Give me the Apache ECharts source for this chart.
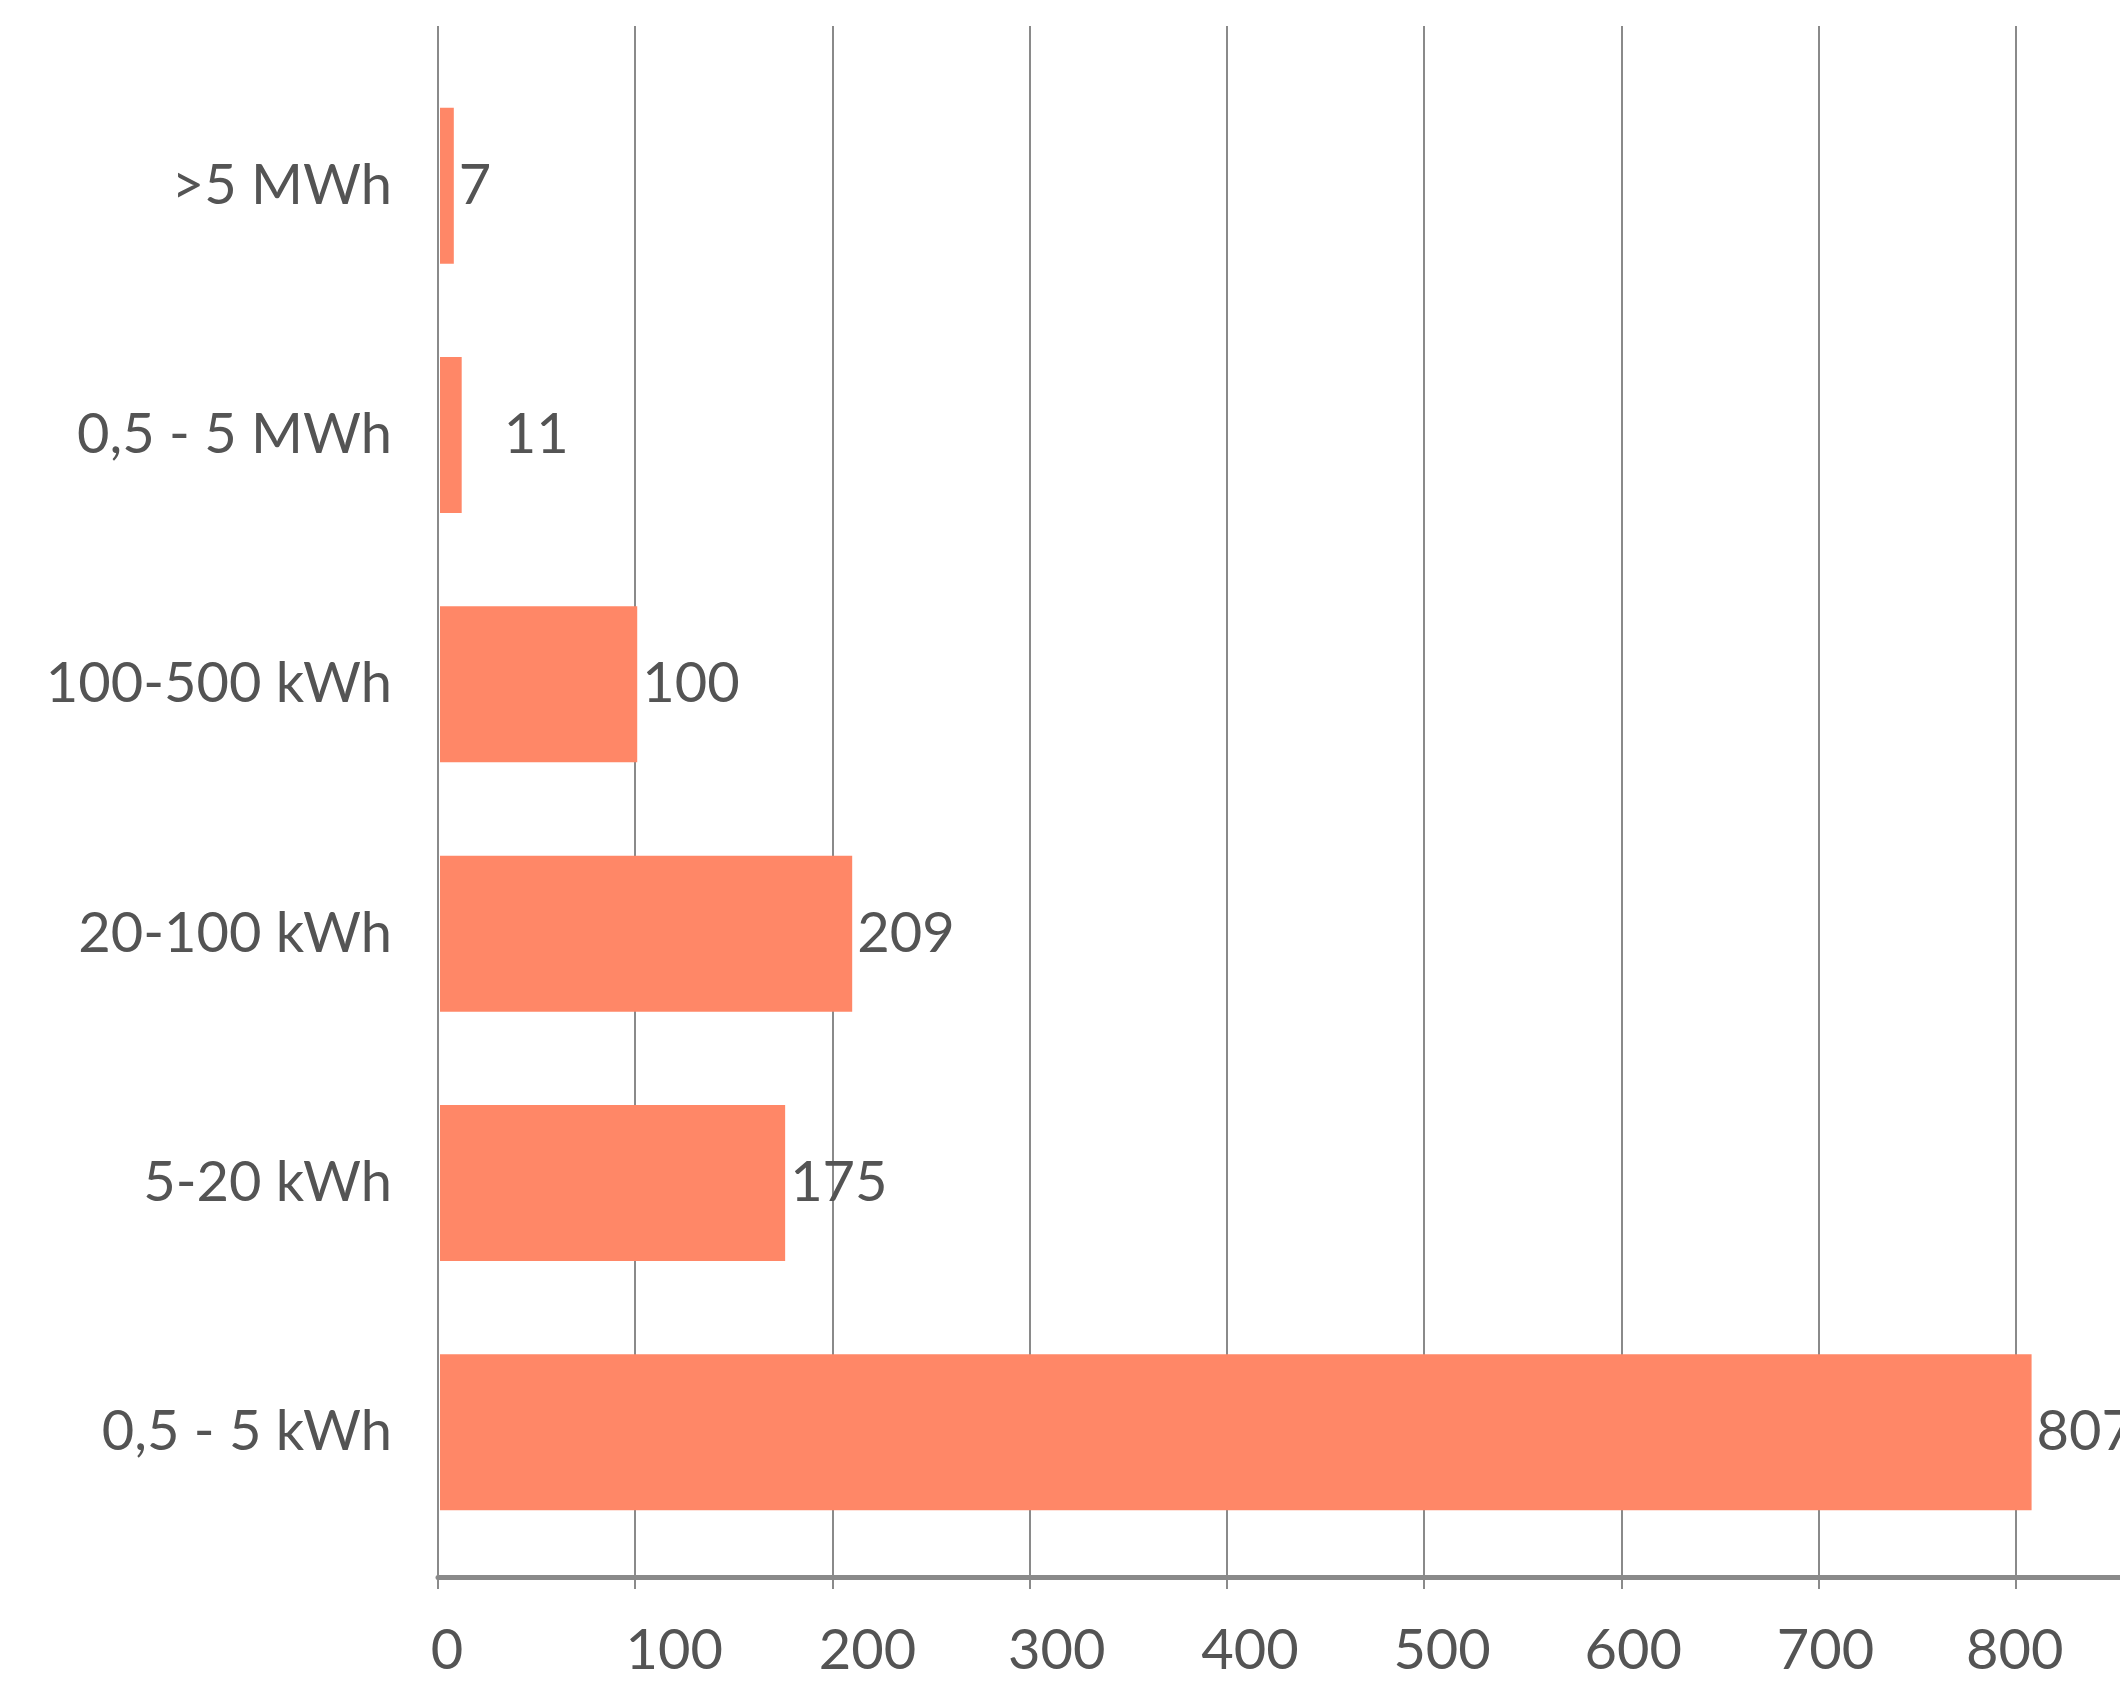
<!DOCTYPE html>
<html>
<head>
<meta charset="utf-8">
<script src="https://cdn.jsdelivr.net/npm/echarts@6/dist/echarts.min.js"></script>
<style>
  html, body { margin: 0; padding: 0; background: #ffffff; }
  #chart { width: 2120px; height: 1683px; }
</style>
</head>
<body>
<div id="chart"></div>
<script>
// Storage capacity classes, listed bottom to top
const categories = ['0,5 - 5 kWh', '5-20 kWh', '20-100 kWh', '100-500 kWh', '0,5 - 5 MWh', '>5 MWh'];
const counts = [807, 175, 209, 100, 11, 7];
const xTicks = [0, 100, 200, 300, 400, 500, 600, 700, 800, 900];

const FONT = 'Lato, "Open Sans", sans-serif';
const WEIGHT = 'normal';
const TEXT = '#545454';
const LINE = '#8a8a8a';
const BAR = '#FF8767';

// slight horizontal nudges of the tick labels (pixels)
const labelShift = [9, 39, 35, 27, 23, 18, 12, 7, -1, 0];
const rich = {};
xTicks.forEach(function (t, i) {
  const s = labelShift[i];
  rich['t' + i] = {
    fontFamily: FONT, fontSize: 56, fontWeight: WEIGHT, color: TEXT,
    padding: s >= 0 ? [0, 0, 0, 2 * s] : [0, -2 * s, 0, 0]
  };
});

// the "11" label sits a little further out from its bar
const barData = counts.map(function (v, i) {
  return i === 4 ? { value: v, label: { distance: 42 } } : v;
});

const chart = echarts.init(document.getElementById('chart'), null, { renderer: 'canvas' });
chart.setOption({
  backgroundColor: '#ffffff',
  animation: false,
  grid: [
    // frame: gridlines and value axis (runs past the right edge)
    { left: 438, width: 1775, top: 26, bottom: 106, containLabel: false, outerBoundsMode: 'none' },
    // bars and category labels
    { left: 440, width: 1775, top: 61, bottom: 126, containLabel: false, outerBoundsMode: 'none' }
  ],
  xAxis: [
    {
      gridIndex: 0, type: 'value', min: xTicks[0], max: xTicks[xTicks.length - 1], interval: 100,
      axisLine: { show: true, lineStyle: { color: LINE, width: 5 } },
      axisTick: { show: true, length: 12, lineStyle: { color: LINE, width: 2 } },
      splitLine: { show: true, lineStyle: { color: LINE, width: 2 } },
      axisLabel: {
        margin: 46,
        fontFamily: FONT, fontSize: 56, fontWeight: WEIGHT, color: TEXT,
        formatter: function (v) {
          const i = xTicks.indexOf(v);
          return '{t' + i + '|' + v + '}';
        },
        rich: rich
      }
    },
    {
      gridIndex: 1, type: 'value', min: xTicks[0], max: xTicks[xTicks.length - 1],
      show: false
    }
  ],
  yAxis: [
    { gridIndex: 0, type: 'value', min: 0, max: 1, show: false },
    {
      gridIndex: 1, type: 'category', data: categories,
      axisLine: { show: false },
      axisTick: { show: false },
      splitLine: { show: false },
      axisLabel: {
        margin: 48, padding: [0, 0, 10, 0],
        fontFamily: FONT, fontSize: 56, fontWeight: WEIGHT, color: TEXT
      }
    }
  ],
  series: [
    {
      type: 'bar',
      xAxisIndex: 1, yAxisIndex: 1,
      data: barData,
      barWidth: 156,
      itemStyle: { color: BAR },
      label: {
        show: true, position: 'right', distance: 5,
        fontFamily: FONT, fontSize: 56, fontWeight: WEIGHT, color: TEXT
      }
    }
  ]
});
</script>
</body>
</html>
